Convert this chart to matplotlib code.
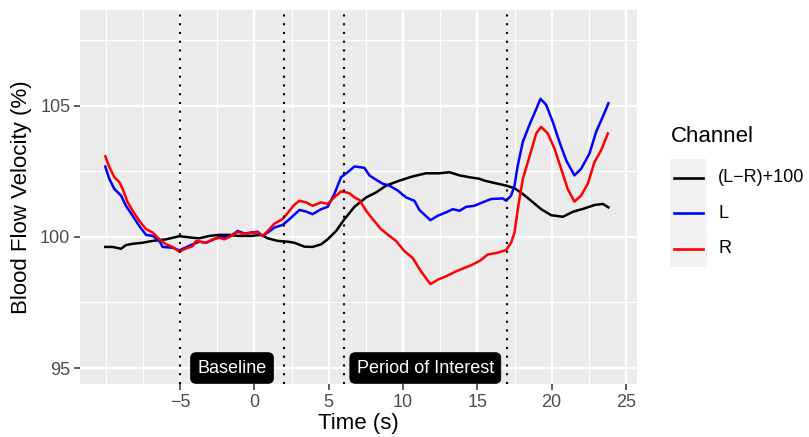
import matplotlib
matplotlib.use("Agg")
import matplotlib.pyplot as plt
from matplotlib.lines import Line2D
from matplotlib.patches import Rectangle

plt.rcParams['font.family'] = ['Liberation Sans', 'DejaVu Sans']

# ---- data ----
t_R = [-10.03, -9.76, -9.42, -9.08, -8.86, -8.52, -8.19, -7.74, -7.29, -6.84, -6.39, -5.94,
       -5.5, -5.05, -4.6, -4.15, -3.92, -3.25, -2.8, -2.36, -2.02, -1.57, -1.12, -0.67, -0.22,
       0.22, 0.56, 0.9, 1.35, 1.9, 2.36, 2.69, 3.03, 3.48, 3.92, 4.49, 4.93, 5.38, 5.83, 6.17,
       6.39, 6.73, 7.07, 7.52, 7.96, 8.52, 9.08, 9.53, 10.09, 10.65, 11.21, 11.84, 12.34, 12.9,
       13.57, 14.13, 14.58, 15.14, 15.7, 16.37, 16.94, 17.27, 17.5, 17.72, 18.06, 18.4, 18.73,
       18.96, 19.29, 19.74, 20.19, 20.64, 21.08, 21.53, 21.98, 22.43, 22.88, 23.33, 23.78]
v_R = [103.08, 102.67, 102.28, 102.09, 101.83, 101.32, 101.0, 100.62, 100.30, 100.17, 99.91, 99.72,
       99.62, 99.44, 99.56, 99.65, 99.85, 99.78, 99.91, 99.97, 99.91, 100.04, 100.19, 100.1, 100.17,
       100.17, 100.04, 100.23, 100.51, 100.68, 101.0, 101.23, 101.38, 101.32, 101.19, 101.32, 101.26,
       101.51, 101.74, 101.70, 101.67, 101.51, 101.41, 101.0, 100.68, 100.3, 100.04, 99.85, 99.46,
       99.2, 98.69, 98.2, 98.37, 98.5, 98.69, 98.82, 98.92, 99.08, 99.33, 99.4, 99.5, 99.78, 100.17,
       101.06, 102.22, 102.86, 103.5, 103.95, 104.2, 103.95, 103.37, 102.6, 101.83, 101.35, 101.58,
       102.03, 102.86, 103.31, 103.95]

t_L = [-10.03, -9.76, -9.42, -8.97, -8.64, -8.19, -7.74, -7.29, -6.84, -6.39, -6.17, -5.5, -5.05,
       -4.15, -3.7, -3.25, -2.36, -1.68, -1.12, -0.67, 0.22, 0.56, 0.9, 1.35, 1.9, 2.36, 3.03, 3.48,
       3.92, 4.49, 4.93, 5.38, 5.83, 6.28, 6.73, 7.4, 7.74, 8.19, 8.64, 9.08, 9.65, 10.2, 10.77,
       11.1, 11.84, 12.34, 12.9, 13.35, 13.8, 14.25, 14.8, 15.48, 15.93, 16.71, 16.94, 17.27, 17.5,
       17.72, 18.06, 18.5, 18.84, 19.25, 19.63, 20.07, 20.52, 20.98, 21.53, 21.98, 22.54, 22.99,
       23.44, 23.82]
v_L = [102.69, 102.22, 101.83, 101.58, 101.19, 100.81, 100.42, 100.08, 100.04, 99.85, 99.62, 99.59,
       99.49, 99.72, 99.82, 99.78, 100.0, 100.0, 100.23, 100.13, 100.2, 100.04, 100.17, 100.36,
       100.46, 100.68, 101.03, 100.97, 100.87, 101.06, 101.15, 101.64, 102.28, 102.47, 102.69,
       102.64, 102.35, 102.18, 102.03, 101.96, 101.77, 101.51, 101.38, 101.03, 100.64, 100.81,
       100.94, 101.06, 101.0, 101.15, 101.19, 101.35, 101.45, 101.47, 101.38, 101.58, 101.96,
       102.73, 103.63, 104.27, 104.72, 105.27, 105.04, 104.4, 103.63, 102.92, 102.35, 102.6,
       103.18, 104.01, 104.59, 105.1]

t_D = [-10.03, -9.53, -8.97, -8.64, -8.19, -7.52, -6.84, -5.94, -5.05, -4.15, -3.7, -3.03, -2.36,
       -1.68, -1.12, -0.22, 0.45, 0.9, 1.57, 2.24, 2.69, 3.37, 3.92, 4.49, 4.93, 5.5, 6.06, 6.73,
       7.52, 8.19, 8.86, 9.76, 10.65, 11.55, 12.45, 13.12, 13.8, 14.47, 15.14, 15.48, 16.15, 16.94,
       17.5, 18.06, 18.62, 19.29, 19.97, 20.75, 21.42, 22.21, 22.88, 23.44, 23.82]
v_D = [99.62, 99.62, 99.55, 99.69, 99.74, 99.78, 99.85, 99.91, 100.03, 99.97, 99.95, 100.04, 100.08,
       100.08, 100.04, 100.04, 100.08, 99.95, 99.85, 99.82, 99.78, 99.63, 99.62, 99.72, 99.91,
       100.23, 100.68, 101.15, 101.51, 101.7, 101.96, 102.15, 102.31, 102.43, 102.43, 102.47,
       102.35, 102.28, 102.22, 102.15, 102.06, 101.96, 101.86, 101.64, 101.38, 101.06, 100.83,
       100.77, 100.96, 101.09, 101.22, 101.26, 101.13]

channels = ["(L\u2212R)+100", "L", "R"]
channel_colors = ["black", "#0000FF", "#FF0000"]

vlines_x = [-5, 2, 6, 17]
label_texts = ["Baseline", "Period of Interest"]
label_x = [-1.5, 11.5]
label_y = [95, 95]

x_ticks = [-5, 0, 5, 10, 15, 20, 25]
x_minor = [-10, -7.5, -2.5, 2.5, 7.5, 12.5, 17.5, 22.5]
y_ticks = [95, 100, 105]
y_minor = [97.5, 102.5, 107.5]

# ---- figure ----
W, H = 809, 437
fig = plt.figure(figsize=(W / 100, H / 100), dpi=100)
ax = fig.add_axes([80 / W, (H - 384) / H, (637 - 80) / W, (384 - 10) / H])
ax.set_facecolor("#EBEBEB")
for s in ax.spines.values():
    s.set_visible(False)

ax.set_xlim(-11.73, 25.74)
ax.set_ylim(94.39, 108.66)

for xm in x_minor:
    ax.axvline(xm, color="white", lw=0.9, zorder=0.5)
for ym in y_minor:
    ax.axhline(ym, color="white", lw=0.9, zorder=0.5)
for xm in x_ticks:
    ax.axvline(xm, color="white", lw=1.7, zorder=0.6)
for ym in y_ticks:
    ax.axhline(ym, color="white", lw=1.7, zorder=0.6)

ax.plot(t_D, v_D, color=channel_colors[0], lw=1.8, zorder=2)
ax.plot(t_L, v_L, color=channel_colors[1], lw=1.8, zorder=2)
ax.plot(t_R, v_R, color=channel_colors[2], lw=1.8, zorder=2)

for xv in vlines_x:
    ax.axvline(xv, color="black", lw=1.5, linestyle=(0, (1, 3.2)), zorder=3)

for txt, xx, yy in zip(label_texts, label_x, label_y):
    ax.text(xx, yy, txt, color="white", fontsize=13, ha="center", va="center", zorder=5,
            bbox=dict(boxstyle="round,pad=0.38,rounding_size=0.3", fc="black", ec="black", lw=0.5))

ax.set_xticks(x_ticks)
ax.set_yticks(y_ticks)
ax.tick_params(axis="both", colors="#333333", labelcolor="#4D4D4D", labelsize=13,
               length=4, width=1.1, pad=3)
ax.set_xlabel("Time (s)", fontsize=16, labelpad=2)
ax.set_ylabel("Blood Flow Velocity (%)", fontsize=16, labelpad=6)

# ---- legend (ggplot style) ----
def fx(px):
    return px / W

def fy(py):
    return 1 - py / H

fig.text(fx(670.5), fy(136.5), "Channel", fontsize=16, ha="left", va="center")
fig.patches.append(Rectangle((fx(670), fy(267.3)), fx(706.7) - fx(670), fy(159.3) - fy(267.3),
                             transform=fig.transFigure, fc="#F2F2F2", ec="none", zorder=1))
key_y = [177.7, 213.3, 248.7]
for name, col, yk in zip(channels, channel_colors, key_y):
    fig.lines.append(Line2D([fx(674.3), fx(702.7)], [fy(yk), fy(yk)], color=col, lw=1.9,
                            transform=fig.transFigure, zorder=2))
    fig.text(fx(718.3), fy(yk), name, fontsize=13, ha="left", va="center")

fig.savefig("out.png", dpi=100)
